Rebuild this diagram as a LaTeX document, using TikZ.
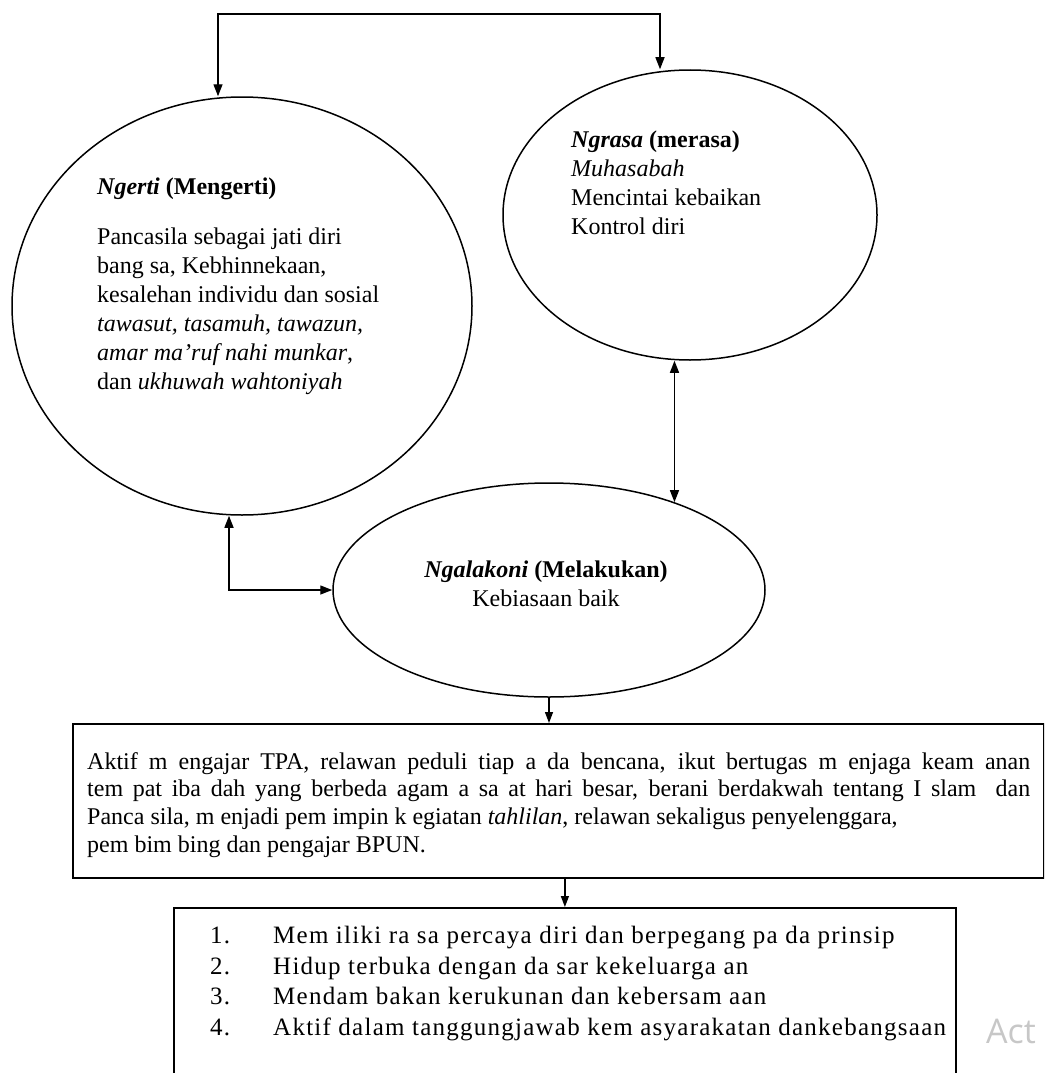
\documentclass[tikz,border=0pt]{standalone}
\usepackage{fontspec}
\setmainfont{Liberation Serif}
\newfontfamily\watermarkfont{Open Sans}
\newfontfamily\listfont[LetterSpace=5]{Liberation Serif}
\usetikzlibrary{shapes.geometric,arrows.meta}
\tikzset{
  oval/.style={ellipse, draw, line width=1.5pt, inner sep=0pt},
  kotak/.style={rectangle, draw, line width=1.8pt, inner sep=0pt, anchor=north west},
  teks/.style={font=\fontsize{24}{29}\selectfont, inner sep=0pt, align=left, anchor=north west},
  panah/.style={line width=1.3pt, -{Triangle[length=11pt,width=8pt]}},
  panahdua/.style={line width=1.4pt, {Triangle[length=12pt,width=9pt]}-{Triangle[length=12pt,width=9pt]}}
}
\begin{document}
\begin{tikzpicture}[x=1pt,y=-1pt]
\useasboundingbox (0,0) rectangle (1044,1073);
\clip (0,0) rectangle (1044,1073);
\node[oval, minimum width=460pt, minimum height=418pt] (ngerti) at (242,306) {};
\node[oval, minimum width=374pt, minimum height=290pt] (ngrasa) at (690,215) {};
\node[oval, minimum width=432pt, minimum height=214pt] (ngalakoni) at (549,590) {};
\node[kotak, minimum width=971pt, minimum height=154pt] (aktif) at (72,723) {};
\node[kotak, minimum width=782pt, minimum height=220pt] (sikap) at (173,907) {};
\node[teks, text width=943pt, align=justify, font=\fontsize{24}{27.7}\selectfont] (aktifteks) at (87,752)
  {Aktif m engajar TPA, relawan peduli tiap a da bencana, ikut bertugas m enjaga keam anan\linebreak
   tem pat iba dah yang berbeda agam a sa at hari besar, berani berdakwah tentang I slam\ \ dan\linebreak
   Panca sila, m enjadi pem impin k egiatan \textit{tahlilan}, relawan sekaligus penyelenggara,\\
   pem bim bing dan pengajar BPUN.};
\node[teks] (ngertiteks) at (97,178) {\textbf{\textit{Ngerti} (Mengerti)}\\[21pt]
  Pancasila sebagai jati diri\\ bang sa, Kebhinnekaan,\\ kesalehan individu dan sosial\\
  \textit{tawasut, tasamuh, tawazun,}\\ \textit{amar ma'ruf nahi munkar},\\ dan \textit{ukhuwah wahtoniyah}};
\node[teks] (ngrasateks) at (571,131) {\textbf{\textit{Ngrasa} (merasa)}\\ \textit{Muhasabah}\\
  Mencintai kebaikan\\ Kontrol diri};
\node[teks, align=center, anchor=center] (ngalakoniteks) at (546,584)
  {\textbf{\textit{Ngalakoni} (Melakukan)}\\ Kebiasaan baik};
\node[teks, font=\listfont\fontsize{25}{30.5}\selectfont] (sikapteks) at (210,926)
  {\makebox[63pt][l]{1.}Mem iliki ra sa percaya diri dan berpegang pa da prinsip\\
   \makebox[63pt][l]{2.}Hidup terbuka dengan da sar kekeluarga an\\
   \makebox[63pt][l]{3.}Mendam bakan kerukunan dan kebersam aan\\
   \makebox[63pt][l]{4.}Aktif dalam tanggungjawab kem asyarakatan dankebangsaan};
\node[font=\watermarkfont\fontsize{34}{34}\selectfont, text=black!22, anchor=base west,
  inner sep=0pt] (act) at (986,1043) {Act};
\coordinate (kiriatas) at (218,14);
\coordinate (kananatas) at (660,14);
\coordinate (siku) at (229,590);
\draw[panahdua] (ngerti.north -| kiriatas) -- (kiriatas) -- (kananatas) -- (ngrasa.north -| kananatas);
\draw[panahdua] (ngrasa.south -| ngalakoni.35) -- (ngalakoni.35);
\draw[panahdua] (ngerti.south -| siku) -- (siku) -- (ngalakoni.west);
\draw[panah] (ngalakoni.south) -- (ngalakoni.south |- aktif.north);
\draw[panah] (aktif.south -| sikap.north) -- (sikap.north);
\end{tikzpicture}
\end{document}
